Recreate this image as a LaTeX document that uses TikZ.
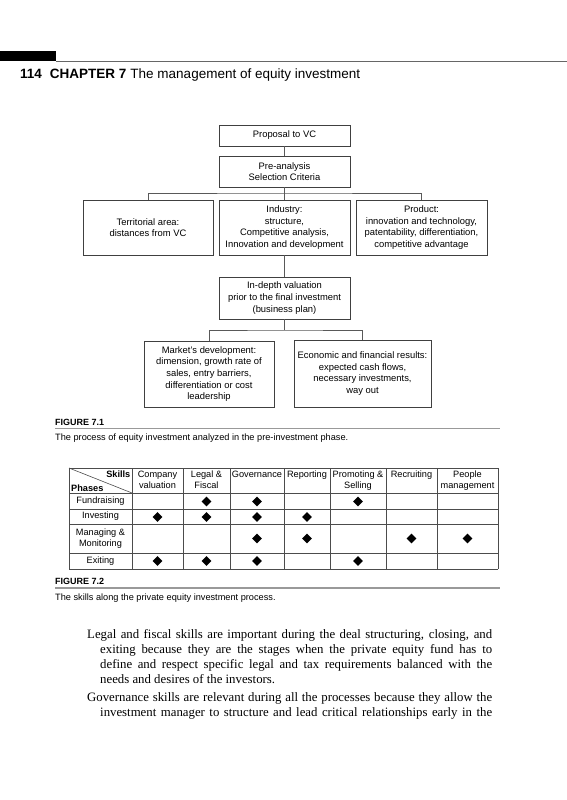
\documentclass[tikz,border=0pt]{standalone}
\usepackage{fontspec}
\setmainfont{Liberation Serif}
\setsansfont{Liberation Sans}
\usetikzlibrary{shapes.geometric}
\begin{document}
\begin{tikzpicture}[x=1pt,y=-1pt,
  box/.style={draw=black!75, line width=0.6pt, inner sep=1pt, align=center,
    font=\fontsize{9.4}{11.7}\selectfont\sffamily},
  conn/.style={draw=black!65, line width=0.6pt},
  gridline/.style={draw=black!70, line width=0.6pt},
  dia/.style={diamond, fill=black, inner sep=0pt, minimum width=10pt, minimum height=10pt},
  cell/.style={font=\fontsize{9.2}{11.5}\selectfont\sffamily, inner sep=0pt, align=center},
  figlabel/.style={anchor=base west, inner sep=0pt, font=\fontsize{9}{10}\selectfont\sffamily\bfseries},
  figcap/.style={anchor=base west, inner sep=0pt, font=\fontsize{9.2}{10}\selectfont\sffamily},
  figrule/.style={draw=black!40, line width=1.4pt},
  bodytext/.style={anchor=north west, inner sep=0pt, text width=405pt, align=justify,
    font=\fontsize{12.8}{15}\selectfont\rmfamily}
]
\useasboundingbox (0,0) rectangle (567,800);
\fill[white] (0,0) rectangle (567,800);

% running head
\fill[black] (0,51) rectangle (56,61);
\draw[draw=black!60, line width=0.6pt] (56,61) -- (567,61);
\node[anchor=base west, inner sep=0pt, font=\fontsize{13.5}{15}\selectfont\sffamily] (hdr) at (20,78)
  {\textbf{114}\hspace{8pt}\textbf{CHAPTER 7}\hspace{4pt}The management of equity investment};

% Figure 7.1 boxes
\node[box, minimum width=131pt, minimum height=21pt] (prop) at (284.5,135.5) {Proposal to VC};
\node[box, minimum width=131pt, minimum height=31pt] (pre) at (284.5,171.5) {Pre-analysis\\Selection Criteria};
\node[box, minimum width=130pt, minimum height=55pt] (terr) at (148,227.5) {Territorial area:\\distances from VC};
\node[box, minimum width=131pt, minimum height=55pt] (ind) at (284.5,227.5) {Industry:\\structure,\\Competitive analysis,\\Innovation and development};
\node[box, minimum width=131pt, minimum height=55pt] (prod) at (421.5,227.5) {Product:\\innovation and technology,\\patentability, differentiation,\\competitive advantage};
\node[box, minimum width=131pt, minimum height=42pt] (deep) at (284.5,298) {In-depth valuation\\prior to the final investment\\(business plan)};
\node[box, minimum width=130pt, minimum height=66pt] (mkt) at (209,374) {Market's development:\\dimension, growth rate of\\sales, entry barriers,\\differentiation or cost\\leadership};
\node[box, minimum width=137pt, minimum height=67pt] (econ) at (362.5,373.5) {Economic and financial results:\\expected cash flows,\\necessary investments,\\way out};

\coordinate (bus1) at (284.5,193);
\coordinate (bus2) at (284.5,330);
\draw[conn] (prop.south) -- (pre.north);
\draw[conn] (pre.south) -- (ind.north);
\draw[conn] (terr.north) |- (bus1) -| (prod.north);
\draw[conn] (ind.south) -- (deep.north);
\draw[conn] (deep.south) -- (bus2);
\draw[conn] (mkt.north) |- (bus2) -| (econ.north);

% Figure 7.1 caption
\node[figlabel] (lab1) at (55,425) {FIGURE 7.1};
\draw[figrule] (55,428.5) -- (500,428.5);
\node[figcap] (cap1) at (55,440.5) {The process of equity investment analyzed in the pre-investment phase.};

% Figure 7.2 table
\foreach \y in {468,493,509,524,553,569} \draw[gridline] (69,\y) -- (498,\y);
\foreach \x in {69,132,183,230,284,330,386,437,498} \draw[gridline] (\x,468) -- (\x,569);
\draw[gridline] (69,468) -- (132,493);
\node[cell, anchor=north east, font=\fontsize{9.2}{11}\selectfont\sffamily\bfseries] (skills) at (130.5,470.5) {Skills};
\node[cell, anchor=south west, font=\fontsize{9.2}{11}\selectfont\sffamily\bfseries] (phases) at (71,491.5) {Phases};

\foreach \cx/\txt [count=\i] in {157.5/{Company\\valuation},206.5/{Legal \&\\Fiscal},257/Governance,307/Reporting,358/{Promoting \&\\Selling},411.5/Recruiting,467.5/{People\\management}}
  \node[cell, anchor=north] (head\i) at (\cx,470.5) {\txt};

\node[cell] (ph1) at (100.5,501) {Fundraising};
\node[cell] (ph2) at (100.5,516.5) {Investing};
\node[cell] (ph3) at (100.5,538.5) {Managing \&\\Monitoring};
\node[cell] (ph4) at (100.5,561) {Exiting};

% diamonds
\foreach \cx/\cy [count=\k] in {206.5/501.5,257/501.5,358/501.5,
  157.5/517,206.5/517,257/517,307/517,
  257/538.5,307/538.5,411.5/538.5,467.5/538.5,
  157.5/561,206.5/561,257/561,358/561}
  \node[dia] (d\k) at (\cx,\cy) {};

% Figure 7.2 caption
\node[figlabel] (lab2) at (55,584.5) {FIGURE 7.2};
\draw[figrule] (55,588) -- (500,588);
\node[figcap] (cap2) at (55,600) {The skills along the private equity investment process.};

% body text
\node[bodytext] (body) at (87,629.5) {%
\hangindent=13pt\hangafter=1
Legal and fiscal skills are important during the deal structuring, closing, and\linebreak
exiting because they are the stages when the private equity fund has to\linebreak
define and respect specific legal and tax requirements balanced with the\linebreak
needs and desires of the investors.\par
\vspace{3pt}%
\hangindent=13pt\hangafter=1\parfillskip=0pt
Governance skills are relevant during all the processes because they allow the\linebreak
investment manager to structure and lead critical relationships early in the\par};
\end{tikzpicture}
\end{document}
